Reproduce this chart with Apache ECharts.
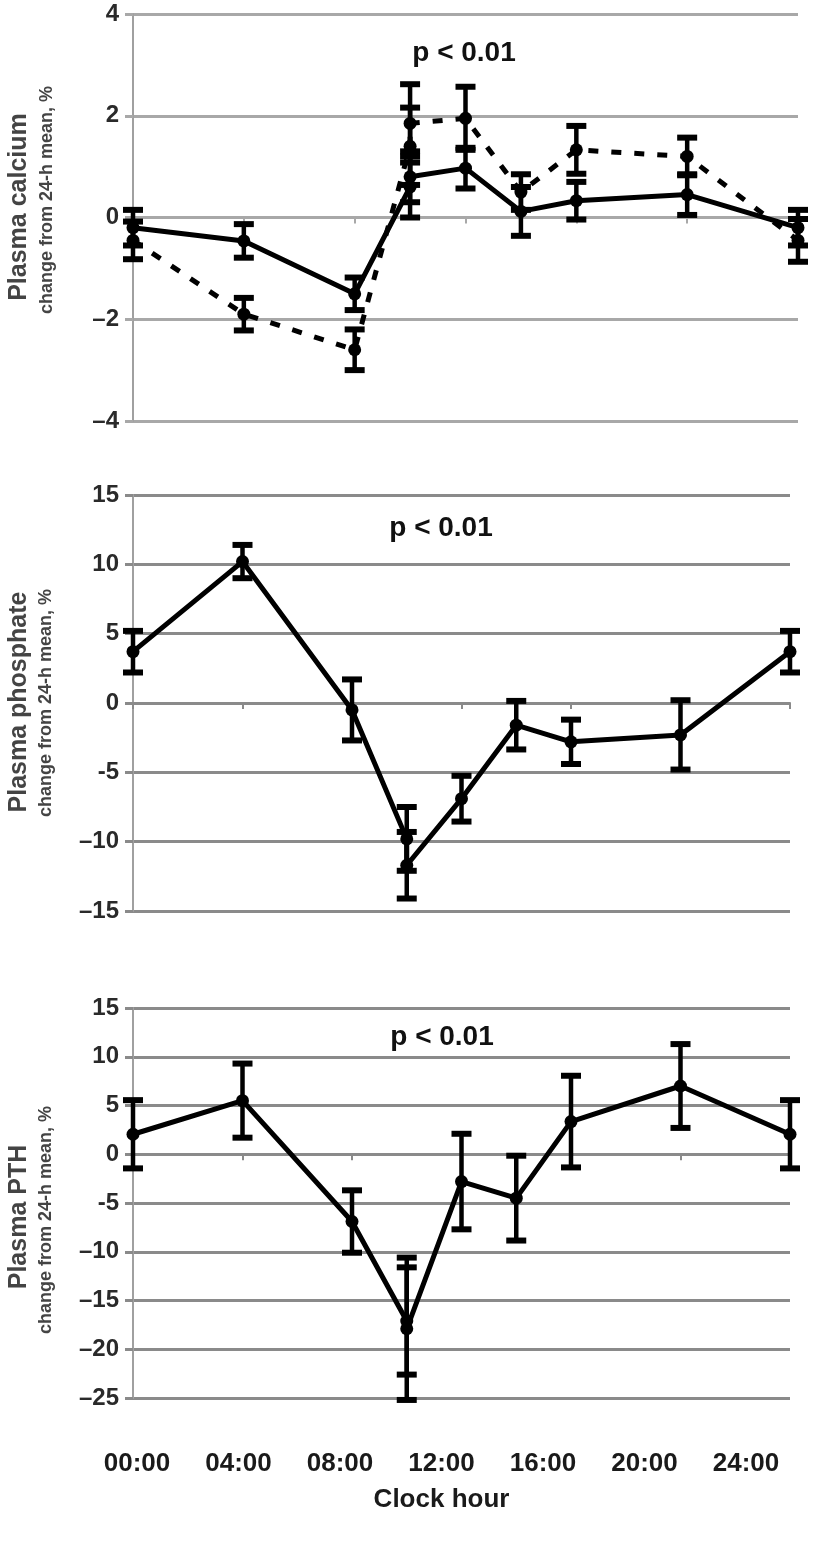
<!DOCTYPE html>
<html><head><meta charset="utf-8">
<script src="https://cdn.jsdelivr.net/npm/echarts/dist/echarts.min.js"></script>
<style>html,body{margin:0;padding:0;background:#fff}#c{width:814px;height:1552px}</style>
</head><body><div id="c"></div>
<script>
// ---- data ----
const hours = [0, 4, 8, 10, 10, 12, 14, 16, 20, 24];
const calciumSolid     = [-0.2, -0.46, -1.5, 0.6, 0.8, 0.97, 0.12, 0.33, 0.45, -0.2];
const calciumSolidErr  = [0.35, 0.33, 0.32, 0.6, 0.5, 0.4, 0.48, 0.37, 0.4, 0.35];
const calciumDashed    = [-0.45, -1.9, -2.6, 1.4, 1.85, 1.95, 0.5, 1.33, 1.2, -0.45];
const calciumDashedErr = [0.37, 0.32, 0.4, 0.76, 0.77, 0.62, 0.35, 0.47, 0.37, 0.42];
const phosphate        = [3.7, 10.2, -0.5, -9.8, -11.7, -6.9, -1.6, -2.8, -2.3, 3.7];
const phosphateErr     = [1.5, 1.2, 2.2, 2.3, 2.4, 1.65, 1.75, 1.6, 2.5, 1.5];
const pth              = [2.05, 5.5, -6.9, -17.1, -17.9, -2.8, -4.5, 3.35, 7.0, 2.05];
const pthErr           = [3.5, 3.8, 3.2, 5.5, 7.3, 4.9, 4.35, 4.7, 4.3, 3.5];
const xTickLabels = ['00:00', '04:00', '08:00', '12:00', '16:00', '20:00', '24:00'];
const panelTitles = ['Plasma calcium', 'Plasma phosphate', 'Plasma PTH'];
const yUnitLabel = 'change from 24-h mean, %';
const pLabel = 'p < 0.01';
const xAxisTitle = 'Clock hour';

// ---- layout ----
const FONT = 'Liberation Sans, Arial, sans-serif';
const panels = [
  {left: 133, top: 14,   width: 665, height: 407, min: -4,  max: 4,  interval: 2, grid: '#a8a8a8', ptext: [464, 53],   tx: [19, 207], ux: [47, 200]},
  {left: 133, top: 495,  width: 657, height: 416, min: -15, max: 15, interval: 5, grid: '#8a8a8a', ptext: [441, 528],  tx: [19, 702], ux: [46, 703]},
  {left: 133, top: 1008, width: 657, height: 390, min: -25, max: 15, interval: 5, grid: '#8a8a8a', ptext: [442, 1037], tx: [19, 1217], ux: [46, 1220]}
];

function yFmt(v) {
  if (v < 0) return (v === -5 ? '-' : '\u2013') + Math.abs(v);
  return String(v);
}

const grids = panels.map(p => ({left: p.left, top: p.top, width: p.width, height: p.height}));
grids.push({left: 137, top: 1440, width: 609, height: 1});

const xAxes = panels.map((p, i) => ({
  type: 'value', gridIndex: i, min: 0, max: 24, interval: 4,
  axisLabel: {show: false},
  axisLine: {show: true, onZero: true, lineStyle: {color: p.grid, width: 2}},
  axisTick: {show: true, length: 6, lineStyle: {color: p.grid, width: 2}},
  splitLine: {show: false}
}));
xAxes.push({
  type: 'value', gridIndex: 3, min: 0, max: 24, interval: 4,
  axisLine: {show: false}, axisTick: {show: false}, splitLine: {show: false},
  axisLabel: {fontSize: 26, fontWeight: 'bold', fontFamily: FONT, color: '#1a1a1a', margin: 10,
    formatter: v => xTickLabels[Math.round(v / 4)]},
  name: xAxisTitle, nameLocation: 'middle', nameGap: 46,
  nameTextStyle: {fontSize: 26, fontWeight: 'bold', fontFamily: FONT, color: '#1a1a1a'}
});

const yAxes = panels.map((p, i) => ({
  type: 'value', gridIndex: i, min: p.min, max: p.max, interval: p.interval,
  axisLine: {show: true, onZero: false, lineStyle: {color: '#a0a0a0', width: 2}},
  axisTick: {show: true, length: 8, lineStyle: {color: p.grid, width: 3}},
  splitLine: {show: true, lineStyle: {color: p.grid, width: 3}},
  axisLabel: {fontSize: 24, fontWeight: 'bold', fontFamily: FONT, color: '#2a2a2a', margin: 14, formatter: yFmt}
}));
yAxes.push({type: 'value', gridIndex: 3, show: false, min: 0, max: 1});

function lineSeries(gi, vals, dashed) {
  return {
    type: 'line', xAxisIndex: gi, yAxisIndex: gi,
    data: hours.map((h, i) => [h, vals[i]]),
    symbol: 'circle', symbolSize: 13,
    itemStyle: {color: '#000'},
    lineStyle: {color: '#000', width: 5, type: dashed ? [10, 13] : 'solid'},
    z: 4, silent: true, animation: false
  };
}
function errSeries(gi, vals, errs) {
  return {
    type: 'custom', xAxisIndex: gi, yAxisIndex: gi,
    data: hours.map((h, i) => [h, vals[i] - errs[i], vals[i] + errs[i]]),
    encode: {x: 0, y: [1, 2]},
    renderItem: (params, api) => {
      const x = api.value(0);
      const lo = api.coord([x, api.value(1)]);
      const hi = api.coord([x, api.value(2)]);
      const w = 10;
      const st = {stroke: '#000', lineWidth: 4.5};
      const cap = {stroke: '#000', lineWidth: 6};
      return {type: 'group', children: [
        {type: 'line', shape: {x1: lo[0], y1: lo[1], x2: hi[0], y2: hi[1]}, style: st},
        {type: 'line', shape: {x1: lo[0] - w, y1: lo[1], x2: lo[0] + w, y2: lo[1]}, style: cap},
        {type: 'line', shape: {x1: hi[0] - w, y1: hi[1], x2: hi[0] + w, y2: hi[1]}, style: cap}
      ]};
    },
    z: 3, silent: true, animation: false
  };
}

const series = [
  errSeries(0, calciumDashed, calciumDashedErr),
  lineSeries(0, calciumDashed, true),
  errSeries(0, calciumSolid, calciumSolidErr),
  lineSeries(0, calciumSolid, false),
  errSeries(1, phosphate, phosphateErr),
  lineSeries(1, phosphate, false),
  errSeries(2, pth, pthErr),
  lineSeries(2, pth, false)
];

const graphics = [];
panels.forEach((p, i) => {
  graphics.push({type: 'text', x: p.ptext[0], y: p.ptext[1],
    style: {text: pLabel, fontSize: 28, fontWeight: 'bold', fontFamily: FONT, fill: '#111', align: 'center', verticalAlign: 'middle'}});
  graphics.push({type: 'text', x: p.tx[0], y: p.tx[1], rotation: Math.PI / 2,
    style: {text: panelTitles[i], fontSize: 25, fontWeight: 'bold', fontFamily: FONT, fill: '#444', align: 'center', verticalAlign: 'middle'}});
  graphics.push({type: 'text', x: p.ux[0], y: p.ux[1], rotation: Math.PI / 2,
    style: {text: yUnitLabel, fontSize: 18, fontWeight: 'bold', fontFamily: FONT, fill: '#444', align: 'center', verticalAlign: 'middle'}});
});

const chart = echarts.init(document.getElementById('c'), null, {renderer: 'canvas'});
chart.setOption({
  animation: false,
  backgroundColor: '#fff',
  grid: grids, xAxis: xAxes, yAxis: yAxes,
  series: series,
  graphic: graphics
});
</script></body></html>
